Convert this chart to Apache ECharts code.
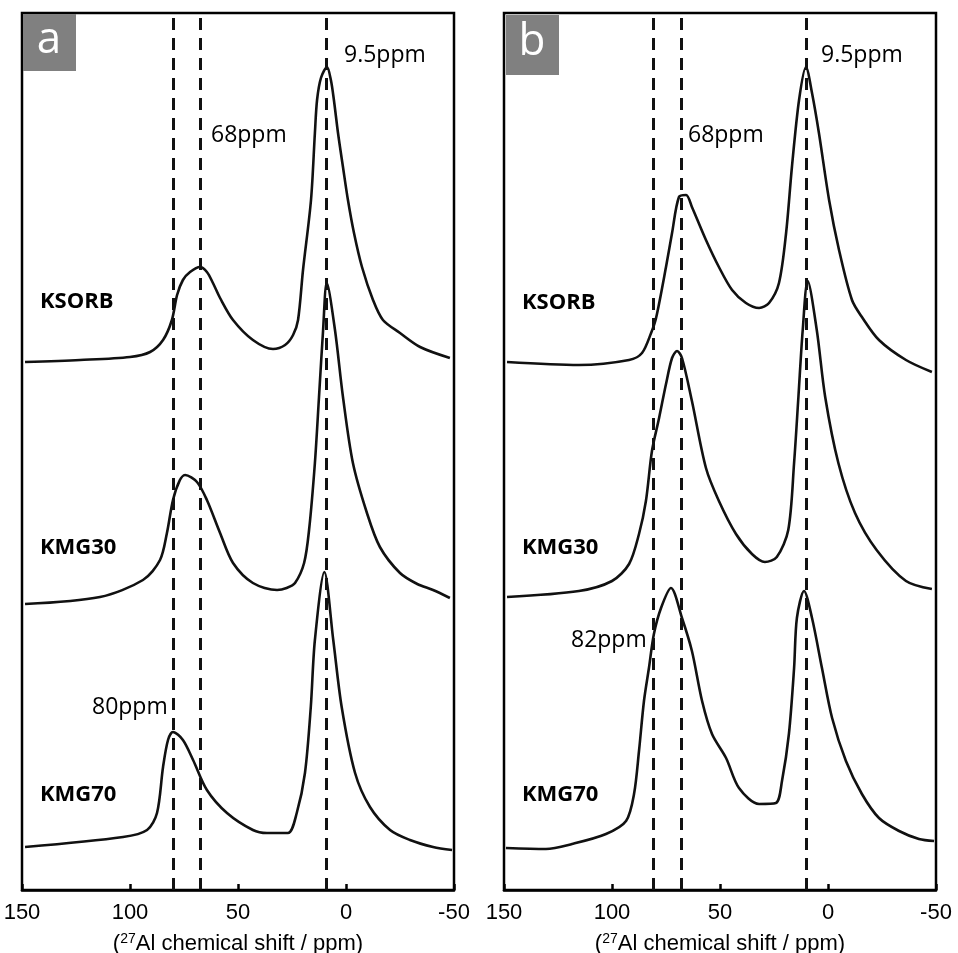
<!DOCTYPE html>
<html>
<head>
<meta charset="utf-8">
<script src="https://cdn.jsdelivr.net/npm/echarts@6/dist/echarts.min.js"></script>
<style>
  html, body { margin: 0; padding: 0; background: #fff; }
  #chart { width: 958px; height: 953px; }
</style>
</head>
<body>
<div id="chart"></div>
<script>
// ppm ticks
var ppmTicks = [150, 100, 50, 0, -50];

// panel a: [ppm, stacked intensity]
var aKSORB = [[148.6,528],[123.1,530],[100,533],[90.7,538],[84.7,550],[80.6,570],[78.2,595],[75.5,610],[72.2,618],[67.6,623],[64.4,618],[61.6,607],[58.3,592],[52.3,570],[43.1,550],[33.8,541],[28.2,545],[24.5,555],[22.2,570],[19.9,620],[16.2,690],[14.4,757],[13.4,790],[11.6,812],[8.8,823],[7.0,810],[5.6,790],[3.7,757],[1.4,723],[-0.9,690],[-3.7,657],[-7.4,623],[-12.5,590],[-17.1,570],[-25,557],[-34.3,543],[-48.1,532]];
var aKMG30 = [[148.6,286],[113.9,293],[94.0,310],[86.1,330],[82.9,357],[80.1,390],[76.9,410],[74.5,415],[69.0,408],[64.4,390],[58.3,357],[52.3,327],[43.1,307],[31.9,300],[27.5,302],[23.6,307],[19.4,327],[17.1,360],[14.4,427],[12.5,493],[10.6,560],[8.9,607],[5.1,560],[1.4,493],[-3.2,427],[-9.7,377],[-15.7,343],[-25.0,317],[-33.0,306],[-40.3,300],[-48.1,292]];
var aKMG70 = [[148.6,43],[103.2,53],[92.1,60],[87.5,77],[84.7,123],[82.4,150],[80.1,158],[75.5,150],[70.8,130],[64.4,100],[55.1,77],[43.1,60],[36.6,57],[26.9,57],[22.8,77],[19.0,117],[16.3,183],[14.4,250],[10.0,318],[5.9,250],[2.0,183],[-4.2,117],[-11.1,83],[-20.4,60],[-29.6,50],[-40.3,43],[-49.1,40]];

// panel b
var bKSORB = [[148.6,528],[115.3,525],[92.1,530],[86.1,537],[81.9,557],[79.6,572],[75.0,623],[72.2,657],[69.0,693],[65.7,695],[63.0,683],[56.5,650],[50.5,623],[44.4,600],[38.0,587],[31.9,582],[27.3,587],[22.7,607],[19.4,657],[16.7,723],[13.4,790],[10.2,823],[7.4,797],[4.2,757],[-0.5,690],[-5.1,640],[-11.1,590],[-15.7,573],[-23.6,550],[-36.1,530],[-48.1,518]];
var bKMG30 = [[148.6,293],[115.3,299],[100.0,309],[92.1,326],[87.5,356],[84.3,389],[81.5,439],[78.2,472],[75.0,506],[72.2,532],[69.9,539],[67.6,532],[63.0,489],[56.5,422],[50.5,389],[42.6,356],[35.2,336],[29.2,328],[23.7,333],[18.4,360],[15.7,427],[13.7,493],[11.7,560],[9.4,609],[5.2,560],[1.3,493],[-4.8,427],[-12.5,377],[-22.5,340],[-36.1,309],[-48.1,301]];
var bKMG70 = [[149.1,42],[130.6,41],[118.5,46],[102.8,56],[93.5,69],[89.8,96],[87.5,139],[85.2,189],[82.9,222],[80.6,256],[77.3,282],[72.7,302],[67.6,272],[63.0,239],[58.3,189],[53.7,156],[47.2,132],[41.2,102],[31.9,86],[24.1,87],[21.3,109],[18.1,156],[15.7,222],[14.4,272],[11.1,299],[7.4,272],[2.8,222],[-1.9,172],[-8.3,129],[-15.7,96],[-23.6,72],[-32.9,59],[-42.1,51],[-49.1,49]];

// reference lines and labels
var aLines = [80, 67.5, 9];
var bLines = [81, 68, 10];
var sampleNames = ['KSORB', 'KMG30', 'KMG70'];

var chart = echarts.init(document.getElementById('chart'));

var font = '"Open Sans", "Noto Sans", sans-serif';
var axisFont = '"Liberation Sans", Arial, sans-serif';

function xAxis(idx) {
  return {
    type: 'value', gridIndex: idx, inverse: true, min: -50, max: 150, interval: 50,
    axisLine: { show: true, onZero: false, lineStyle: { color: '#000', width: 2.5 } },
    axisTick: { show: true, inside: true, length: 6, lineStyle: { color: '#000', width: 2.5 } },
    axisLabel: { color: '#000', fontSize: 22, fontFamily: axisFont, margin: 12 },
    splitLine: { show: false },
    name: '({sup|27}Al chemical shift / ppm)',
    nameLocation: 'middle', nameGap: 42,
    nameTextStyle: {
      color: '#000', fontSize: 22, fontFamily: axisFont,
      rich: { sup: { fontSize: 14, verticalAlign: 'top', padding: [0, 0, 10, 0], color: '#000', fontFamily: axisFont } }
    }
  };
}
function yAxis(idx) {
  return { type: 'value', gridIndex: idx, min: 0, max: 877, show: false };
}
function trace(data, idx, lines) {
  var s = {
    type: 'line', xAxisIndex: idx, yAxisIndex: idx, data: data,
    showSymbol: false, smooth: 0.3,
    lineStyle: { color: '#111', width: 2.6, join: 'round' }, z: 3, silent: true
  };
  if (lines) {
    s.markLine = {
      silent: true, symbol: 'none', label: { show: false },
      lineStyle: { color: '#111', width: 3, type: [12, 8] },
      data: lines.map(function (v) { return { xAxis: v }; })
    };
  }
  return s;
}

function label(x, y, text, bold) {
  return { type: 'text', x: x, y: y, style: { text: text, fill: '#000', font: (bold ? 'bold 22px ' : '23px ') + font, verticalAlign: 'middle' } };
}

chart.setOption({
  animation: false,
  backgroundColor: '#fff',
  grid: [
    { left: 22, top: 13, width: 432, height: 877, outerBoundsMode: 'none', show: true, borderColor: '#000', borderWidth: 2.5 },
    { left: 504, top: 13, width: 432, height: 877, outerBoundsMode: 'none', show: true, borderColor: '#000', borderWidth: 2.5 }
  ],
  xAxis: [xAxis(0), xAxis(1)],
  yAxis: [yAxis(0), yAxis(1)],
  series: [
    trace(aKSORB, 0, aLines), trace(aKMG30, 0), trace(aKMG70, 0),
    trace(bKSORB, 1, bLines), trace(bKMG30, 1), trace(bKMG70, 1)
  ],
  graphic: [
    { type: 'rect', shape: { x: 23, y: 14, width: 53, height: 57 }, style: { fill: '#808080' } },
    { type: 'text', x: 49, y: 40, style: { text: 'a', fill: '#fff', font: '44px ' + font, align: 'center', verticalAlign: 'middle' } },
    { type: 'rect', shape: { x: 506, y: 15, width: 53, height: 60 }, style: { fill: '#808080' } },
    { type: 'text', x: 532, y: 42, style: { text: 'b', fill: '#fff', font: '44px ' + font, align: 'center', verticalAlign: 'middle' } },

    label(344, 55, '9.5ppm'), label(211, 135, '68ppm'), label(92, 707, '80ppm'),
    label(821, 55, '9.5ppm'), label(688, 135, '68ppm'), label(571, 640, '82ppm'),

    label(40, 302, sampleNames[0], true), label(40, 548, sampleNames[1], true), label(40, 795, sampleNames[2], true),
    label(522, 303, sampleNames[0], true), label(522, 548, sampleNames[1], true), label(522, 795, sampleNames[2], true)
  ]
});
</script>
</body>
</html>
